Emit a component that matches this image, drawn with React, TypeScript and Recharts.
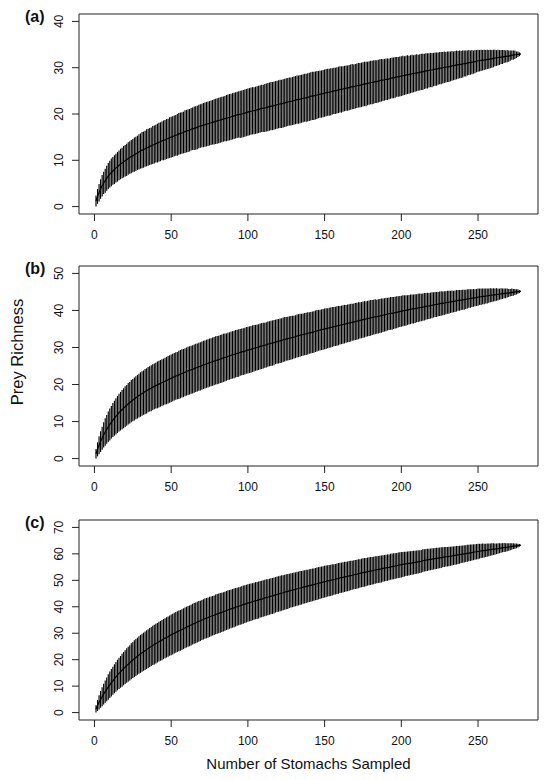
import { ComposedChart, Line, ErrorBar, XAxis, YAxis, ReferenceArea } from "recharts";

const FONT = "'Liberation Sans', Arial, sans-serif";

// x axis: number of stomachs sampled (1..278), R-style 4% padding
const X_DOMAIN: [number, number] = [-10.08, 289.08];
const X_TICKS = [0, 50, 100, 150, 200, 250];

// (a) mean prey richness and CI half-width (2 sd) per sample size
const A_MEAN = [
  1.2, 2.2, 3.0, 3.8, 4.5, 5.1, 5.6, 6.1, 6.6, 7.0,
  7.4, 7.7, 8.0, 8.3, 8.6, 8.9, 9.2, 9.4, 9.7, 9.9,
  10.1, 10.4, 10.6, 10.8, 11.0, 11.2, 11.4, 11.6, 11.8, 12.0,
  12.2, 12.3, 12.5, 12.7, 12.8, 13.0, 13.1, 13.3, 13.4, 13.6,
  13.7, 13.9, 14.0, 14.2, 14.3, 14.4, 14.6, 14.7, 14.9, 15.0,
  15.1, 15.3, 15.4, 15.5, 15.7, 15.8, 15.9, 16.0, 16.2, 16.3,
  16.4, 16.5, 16.7, 16.8, 16.9, 17.0, 17.1, 17.3, 17.4, 17.5,
  17.6, 17.7, 17.8, 17.9, 18.0, 18.1, 18.2, 18.3, 18.4, 18.5,
  18.6, 18.7, 18.8, 18.9, 19.0, 19.1, 19.2, 19.3, 19.4, 19.5,
  19.6, 19.7, 19.8, 19.9, 19.9, 20.0, 20.1, 20.2, 20.3, 20.4,
  20.5, 20.6, 20.7, 20.7, 20.8, 20.9, 21.0, 21.1, 21.2, 21.2,
  21.3, 21.4, 21.5, 21.6, 21.7, 21.7, 21.8, 21.9, 22.0, 22.1,
  22.2, 22.2, 22.3, 22.4, 22.5, 22.6, 22.7, 22.7, 22.8, 22.9,
  23.0, 23.1, 23.1, 23.2, 23.3, 23.4, 23.5, 23.5, 23.6, 23.7,
  23.8, 23.9, 23.9, 24.0, 24.1, 24.2, 24.3, 24.3, 24.4, 24.5,
  24.6, 24.7, 24.7, 24.8, 24.9, 25.0, 25.0, 25.1, 25.2, 25.3,
  25.3, 25.4, 25.5, 25.6, 25.6, 25.7, 25.8, 25.9, 25.9, 26.0,
  26.1, 26.2, 26.2, 26.3, 26.4, 26.5, 26.5, 26.6, 26.7, 26.8,
  26.8, 26.9, 27.0, 27.0, 27.1, 27.2, 27.3, 27.3, 27.4, 27.5,
  27.5, 27.6, 27.7, 27.8, 27.8, 27.9, 28.0, 28.0, 28.1, 28.2,
  28.3, 28.3, 28.4, 28.5, 28.5, 28.6, 28.7, 28.7, 28.8, 28.9,
  28.9, 29.0, 29.1, 29.1, 29.2, 29.3, 29.3, 29.4, 29.5, 29.5,
  29.6, 29.7, 29.7, 29.8, 29.9, 29.9, 30.0, 30.1, 30.1, 30.2,
  30.2, 30.3, 30.4, 30.4, 30.5, 30.6, 30.6, 30.7, 30.7, 30.8,
  30.9, 30.9, 31.0, 31.1, 31.1, 31.2, 31.2, 31.3, 31.4, 31.5,
  31.5, 31.6, 31.6, 31.7, 31.7, 31.8, 31.8, 31.9, 31.9, 32.0,
  32.1, 32.1, 32.2, 32.2, 32.3, 32.3, 32.4, 32.4, 32.5, 32.5,
  32.6, 32.7, 32.7, 32.8, 32.8, 32.9, 32.9, 33.0,
];
const A_CI = [
  1.2, 1.6, 1.9, 2.1, 2.3, 2.4, 2.6, 2.7, 2.8, 2.9,
  3.0, 3.0, 3.1, 3.1, 3.2, 3.2, 3.3, 3.3, 3.4, 3.4,
  3.5, 3.5, 3.5, 3.6, 3.6, 3.7, 3.7, 3.7, 3.8, 3.8,
  3.9, 3.9, 3.9, 4.0, 4.0, 4.0, 4.0, 4.1, 4.1, 4.1,
  4.2, 4.2, 4.2, 4.2, 4.3, 4.3, 4.3, 4.3, 4.4, 4.4,
  4.4, 4.4, 4.4, 4.5, 4.5, 4.5, 4.5, 4.5, 4.6, 4.6,
  4.6, 4.6, 4.6, 4.6, 4.7, 4.7, 4.7, 4.7, 4.7, 4.7,
  4.8, 4.8, 4.8, 4.8, 4.8, 4.8, 4.8, 4.9, 4.9, 4.9,
  4.9, 4.9, 4.9, 4.9, 4.9, 5.0, 5.0, 5.0, 5.0, 5.0,
  5.0, 5.0, 5.0, 5.0, 5.1, 5.1, 5.1, 5.1, 5.1, 5.1,
  5.1, 5.1, 5.1, 5.1, 5.1, 5.1, 5.1, 5.1, 5.1, 5.1,
  5.2, 5.2, 5.2, 5.2, 5.2, 5.2, 5.2, 5.2, 5.2, 5.2,
  5.2, 5.2, 5.2, 5.2, 5.2, 5.2, 5.2, 5.2, 5.2, 5.2,
  5.2, 5.2, 5.2, 5.2, 5.2, 5.2, 5.2, 5.2, 5.2, 5.2,
  5.2, 5.2, 5.2, 5.2, 5.2, 5.1, 5.1, 5.1, 5.1, 5.1,
  5.1, 5.1, 5.1, 5.1, 5.0, 5.0, 5.0, 5.0, 5.0, 5.0,
  5.0, 4.9, 4.9, 4.9, 4.9, 4.9, 4.9, 4.9, 4.8, 4.8,
  4.8, 4.8, 4.8, 4.8, 4.8, 4.8, 4.8, 4.7, 4.7, 4.7,
  4.7, 4.7, 4.6, 4.6, 4.6, 4.6, 4.6, 4.5, 4.5, 4.5,
  4.5, 4.4, 4.4, 4.4, 4.4, 4.4, 4.3, 4.3, 4.3, 4.3,
  4.3, 4.2, 4.2, 4.2, 4.1, 4.1, 4.1, 4.0, 4.0, 4.0,
  3.9, 3.9, 3.9, 3.9, 3.8, 3.8, 3.8, 3.7, 3.7, 3.7,
  3.6, 3.6, 3.6, 3.5, 3.5, 3.5, 3.4, 3.4, 3.3, 3.3,
  3.3, 3.2, 3.2, 3.1, 3.1, 3.1, 3.0, 3.0, 2.9, 2.9,
  2.8, 2.8, 2.7, 2.7, 2.6, 2.6, 2.5, 2.5, 2.4, 2.4,
  2.3, 2.3, 2.2, 2.2, 2.1, 2.1, 2.0, 2.0, 1.9, 1.9,
  1.8, 1.7, 1.7, 1.6, 1.5, 1.5, 1.4, 1.3, 1.3, 1.2,
  1.1, 1.0, 1.0, 0.9, 0.7, 0.6, 0.4, 0,
];

// (b)
const B_MEAN = [
  1.3, 2.5, 3.6, 4.6, 5.5, 6.4, 7.2, 7.9, 8.6, 9.2,
  9.8, 10.4, 10.9, 11.4, 11.9, 12.4, 12.8, 13.2, 13.6, 14.0,
  14.4, 14.8, 15.1, 15.5, 15.8, 16.1, 16.4, 16.7, 17.0, 17.3,
  17.6, 17.8, 18.1, 18.3, 18.6, 18.8, 19.0, 19.3, 19.5, 19.7,
  19.9, 20.1, 20.3, 20.5, 20.7, 20.9, 21.1, 21.3, 21.5, 21.7,
  21.9, 22.1, 22.3, 22.4, 22.6, 22.8, 23.0, 23.1, 23.3, 23.5,
  23.7, 23.8, 24.0, 24.1, 24.3, 24.5, 24.6, 24.8, 24.9, 25.1,
  25.3, 25.4, 25.6, 25.7, 25.9, 26.0, 26.2, 26.3, 26.5, 26.6,
  26.7, 26.9, 27.0, 27.2, 27.3, 27.4, 27.6, 27.7, 27.9, 28.0,
  28.1, 28.3, 28.4, 28.5, 28.7, 28.8, 28.9, 29.0, 29.2, 29.3,
  29.4, 29.5, 29.7, 29.8, 29.9, 30.0, 30.1, 30.3, 30.4, 30.5,
  30.6, 30.7, 30.9, 31.0, 31.1, 31.2, 31.3, 31.5, 31.6, 31.7,
  31.8, 31.9, 32.1, 32.2, 32.3, 32.4, 32.5, 32.6, 32.7, 32.8,
  32.9, 33.1, 33.2, 33.3, 33.4, 33.5, 33.6, 33.7, 33.8, 33.9,
  34.0, 34.1, 34.2, 34.4, 34.5, 34.6, 34.7, 34.8, 34.9, 35.0,
  35.1, 35.2, 35.3, 35.4, 35.5, 35.6, 35.7, 35.8, 35.9, 36.0,
  36.1, 36.2, 36.3, 36.4, 36.5, 36.6, 36.7, 36.8, 36.9, 37.0,
  37.1, 37.2, 37.3, 37.4, 37.5, 37.6, 37.7, 37.8, 37.9, 38.0,
  38.1, 38.2, 38.3, 38.3, 38.4, 38.5, 38.6, 38.7, 38.8, 38.9,
  39.0, 39.1, 39.2, 39.2, 39.3, 39.4, 39.5, 39.6, 39.7, 39.8,
  39.9, 40.0, 40.0, 40.1, 40.2, 40.3, 40.4, 40.4, 40.5, 40.6,
  40.7, 40.8, 40.8, 40.9, 41.0, 41.1, 41.2, 41.2, 41.3, 41.4,
  41.5, 41.6, 41.6, 41.7, 41.8, 41.9, 41.9, 42.0, 42.1, 42.2,
  42.2, 42.3, 42.4, 42.4, 42.5, 42.6, 42.7, 42.7, 42.8, 42.9,
  42.9, 43.0, 43.1, 43.2, 43.2, 43.3, 43.4, 43.4, 43.5, 43.6,
  43.7, 43.7, 43.8, 43.8, 43.9, 43.9, 44.0, 44.1, 44.1, 44.2,
  44.2, 44.3, 44.3, 44.4, 44.5, 44.5, 44.6, 44.6, 44.7, 44.7,
  44.8, 44.9, 44.9, 45.0, 45.0, 45.1, 45.1, 45.2,
];
const B_CI = [
  1.3, 1.9, 2.4, 2.8, 3.1, 3.4, 3.7, 3.9, 4.1, 4.3,
  4.4, 4.6, 4.7, 4.9, 5.0, 5.1, 5.2, 5.3, 5.4, 5.5,
  5.5, 5.6, 5.6, 5.7, 5.7, 5.8, 5.8, 5.9, 5.9, 6.0,
  6.0, 6.0, 6.1, 6.1, 6.1, 6.1, 6.2, 6.2, 6.2, 6.2,
  6.3, 6.3, 6.3, 6.3, 6.3, 6.3, 6.4, 6.4, 6.4, 6.4,
  6.4, 6.4, 6.4, 6.4, 6.5, 6.5, 6.5, 6.5, 6.5, 6.5,
  6.5, 6.5, 6.5, 6.5, 6.5, 6.5, 6.5, 6.5, 6.5, 6.5,
  6.5, 6.5, 6.5, 6.5, 6.5, 6.5, 6.5, 6.5, 6.5, 6.5,
  6.5, 6.5, 6.5, 6.5, 6.5, 6.4, 6.4, 6.4, 6.4, 6.4,
  6.4, 6.4, 6.4, 6.4, 6.3, 6.3, 6.3, 6.3, 6.3, 6.3,
  6.3, 6.3, 6.3, 6.3, 6.2, 6.2, 6.2, 6.2, 6.2, 6.2,
  6.1, 6.1, 6.1, 6.1, 6.1, 6.1, 6.1, 6.0, 6.0, 6.0,
  6.0, 6.0, 6.0, 6.0, 5.9, 5.9, 5.9, 5.9, 5.9, 5.8,
  5.8, 5.8, 5.8, 5.8, 5.7, 5.7, 5.7, 5.7, 5.7, 5.6,
  5.6, 5.6, 5.6, 5.6, 5.6, 5.5, 5.5, 5.5, 5.5, 5.5,
  5.5, 5.4, 5.4, 5.4, 5.4, 5.3, 5.3, 5.3, 5.3, 5.2,
  5.2, 5.2, 5.2, 5.1, 5.1, 5.1, 5.1, 5.0, 5.0, 5.0,
  5.0, 5.0, 4.9, 4.9, 4.9, 4.9, 4.8, 4.8, 4.8, 4.8,
  4.7, 4.7, 4.7, 4.6, 4.6, 4.6, 4.6, 4.5, 4.5, 4.5,
  4.4, 4.4, 4.4, 4.4, 4.3, 4.3, 4.3, 4.2, 4.2, 4.2,
  4.2, 4.1, 4.1, 4.0, 4.0, 4.0, 3.9, 3.9, 3.9, 3.8,
  3.8, 3.8, 3.7, 3.7, 3.7, 3.6, 3.6, 3.5, 3.5, 3.5,
  3.4, 3.4, 3.4, 3.3, 3.3, 3.3, 3.2, 3.2, 3.1, 3.1,
  3.1, 3.0, 3.0, 2.9, 2.9, 2.9, 2.8, 2.8, 2.7, 2.7,
  2.7, 2.6, 2.6, 2.5, 2.5, 2.4, 2.4, 2.3, 2.3, 2.3,
  2.2, 2.2, 2.1, 2.1, 2.0, 2.0, 1.9, 1.9, 1.8, 1.8,
  1.7, 1.7, 1.6, 1.5, 1.5, 1.4, 1.3, 1.3, 1.2, 1.1,
  1.0, 1.0, 0.9, 0.8, 0.7, 0.6, 0.4, 0,
];

// (c)
const C_MEAN = [
  1.4, 2.7, 3.9, 5.0, 6.0, 7.0, 7.9, 8.8, 9.7, 10.5,
  11.3, 12.0, 12.8, 13.5, 14.2, 14.8, 15.4, 16.0, 16.6, 17.2,
  17.8, 18.3, 18.8, 19.4, 19.9, 20.4, 20.8, 21.3, 21.8, 22.2,
  22.6, 23.0, 23.4, 23.8, 24.2, 24.6, 25.0, 25.4, 25.7, 26.1,
  26.4, 26.8, 27.1, 27.4, 27.8, 28.1, 28.4, 28.7, 29.1, 29.4,
  29.7, 30.0, 30.3, 30.6, 30.9, 31.1, 31.4, 31.7, 32.0, 32.3,
  32.6, 32.8, 33.1, 33.4, 33.7, 33.9, 34.2, 34.5, 34.7, 35.0,
  35.2, 35.5, 35.7, 35.9, 36.2, 36.4, 36.6, 36.8, 37.1, 37.3,
  37.5, 37.7, 37.9, 38.1, 38.3, 38.6, 38.8, 39.0, 39.2, 39.4,
  39.6, 39.8, 40.0, 40.2, 40.4, 40.6, 40.8, 41.0, 41.2, 41.4,
  41.6, 41.7, 41.9, 42.1, 42.3, 42.4, 42.6, 42.8, 42.9, 43.1,
  43.3, 43.5, 43.6, 43.8, 44.0, 44.1, 44.3, 44.5, 44.7, 44.8,
  45.0, 45.2, 45.3, 45.5, 45.7, 45.8, 46.0, 46.2, 46.3, 46.5,
  46.6, 46.8, 46.9, 47.1, 47.2, 47.4, 47.5, 47.7, 47.8, 48.0,
  48.1, 48.3, 48.4, 48.6, 48.7, 48.9, 49.0, 49.2, 49.3, 49.5,
  49.6, 49.8, 49.9, 50.0, 50.2, 50.3, 50.4, 50.6, 50.7, 50.9,
  51.0, 51.1, 51.3, 51.4, 51.5, 51.7, 51.8, 51.9, 52.1, 52.2,
  52.3, 52.5, 52.6, 52.8, 52.9, 53.0, 53.1, 53.3, 53.4, 53.5,
  53.6, 53.7, 53.9, 54.0, 54.1, 54.2, 54.3, 54.5, 54.6, 54.7,
  54.8, 54.9, 55.1, 55.2, 55.3, 55.4, 55.5, 55.7, 55.8, 55.9,
  56.0, 56.1, 56.2, 56.3, 56.4, 56.5, 56.6, 56.7, 56.8, 56.9,
  57.0, 57.1, 57.2, 57.4, 57.5, 57.6, 57.7, 57.8, 57.9, 58.0,
  58.1, 58.2, 58.3, 58.4, 58.5, 58.6, 58.7, 58.8, 58.9, 58.9,
  59.0, 59.1, 59.2, 59.3, 59.4, 59.5, 59.6, 59.7, 59.8, 59.9,
  60.0, 60.1, 60.2, 60.3, 60.4, 60.5, 60.6, 60.7, 60.8, 60.9,
  61.0, 61.1, 61.2, 61.2, 61.3, 61.4, 61.5, 61.6, 61.7, 61.8,
  61.8, 61.9, 62.0, 62.1, 62.2, 62.3, 62.4, 62.4, 62.5, 62.6,
  62.7, 62.8, 62.9, 62.9, 63.0, 63.1, 63.2, 63.3,
];
const C_CI = [
  1.4, 2.1, 2.7, 3.2, 3.6, 3.9, 4.2, 4.5, 4.8, 5.0,
  5.2, 5.3, 5.5, 5.6, 5.8, 5.9, 6.0, 6.2, 6.3, 6.4,
  6.5, 6.6, 6.7, 6.8, 6.8, 6.9, 7.0, 7.0, 7.1, 7.2,
  7.2, 7.2, 7.3, 7.3, 7.3, 7.4, 7.4, 7.4, 7.5, 7.5,
  7.5, 7.5, 7.5, 7.6, 7.6, 7.6, 7.6, 7.6, 7.6, 7.7,
  7.7, 7.7, 7.7, 7.7, 7.7, 7.7, 7.7, 7.7, 7.7, 7.7,
  7.7, 7.7, 7.7, 7.7, 7.7, 7.7, 7.7, 7.7, 7.6, 7.6,
  7.6, 7.6, 7.6, 7.6, 7.6, 7.5, 7.5, 7.5, 7.5, 7.5,
  7.5, 7.5, 7.4, 7.4, 7.4, 7.4, 7.4, 7.3, 7.3, 7.3,
  7.3, 7.3, 7.2, 7.2, 7.2, 7.2, 7.2, 7.1, 7.1, 7.1,
  7.1, 7.1, 7.0, 7.0, 7.0, 7.0, 7.0, 6.9, 6.9, 6.9,
  6.9, 6.9, 6.8, 6.8, 6.8, 6.8, 6.8, 6.7, 6.7, 6.7,
  6.7, 6.7, 6.6, 6.6, 6.6, 6.6, 6.5, 6.5, 6.5, 6.5,
  6.4, 6.4, 6.4, 6.4, 6.3, 6.3, 6.3, 6.3, 6.2, 6.2,
  6.2, 6.2, 6.1, 6.1, 6.1, 6.1, 6.1, 6.0, 6.0, 6.0,
  6.0, 5.9, 5.9, 5.9, 5.9, 5.8, 5.8, 5.8, 5.8, 5.7,
  5.7, 5.7, 5.7, 5.6, 5.6, 5.6, 5.6, 5.5, 5.5, 5.5,
  5.5, 5.5, 5.4, 5.4, 5.4, 5.4, 5.3, 5.3, 5.3, 5.3,
  5.2, 5.2, 5.2, 5.1, 5.1, 5.1, 5.1, 5.0, 5.0, 5.0,
  5.0, 4.9, 4.9, 4.9, 4.9, 4.8, 4.8, 4.8, 4.8, 4.8,
  4.7, 4.7, 4.6, 4.6, 4.6, 4.5, 4.5, 4.5, 4.4, 4.4,
  4.4, 4.3, 4.3, 4.3, 4.2, 4.2, 4.2, 4.1, 4.1, 4.1,
  4.0, 4.0, 4.0, 3.9, 3.9, 3.9, 3.8, 3.8, 3.7, 3.7,
  3.7, 3.6, 3.6, 3.5, 3.5, 3.5, 3.4, 3.4, 3.3, 3.3,
  3.3, 3.2, 3.2, 3.1, 3.1, 3.0, 3.0, 2.9, 2.9, 2.9,
  2.8, 2.7, 2.7, 2.6, 2.5, 2.5, 2.4, 2.3, 2.3, 2.2,
  2.1, 2.0, 2.0, 1.9, 1.8, 1.7, 1.7, 1.6, 1.5, 1.4,
  1.3, 1.2, 1.1, 1.0, 0.9, 0.7, 0.5, 0,
];

const PANELS = [
  { label: "(a)", mean: A_MEAN, ci: A_CI, yDomain: [-1.6, 41.6], yTicks: [0, 10, 20, 30, 40], top: 0 },
  { label: "(b)", mean: B_MEAN, ci: B_CI, yDomain: [-2, 52], yTicks: [0, 10, 20, 30, 40, 50], top: 252 },
  { label: "(c)", mean: C_MEAN, ci: C_CI, yDomain: [-2.8, 72.8], yTicks: [0, 10, 20, 30, 40, 50, 60, 70], top: 506 },
];

function toRows(mean: number[], ci: number[]) {
  return mean.map((m, i) => ({ n: i + 1, mean: m, ci: ci[i] }));
}

// R draws y tick labels parallel to the axis
function YTick(props: any) {
  const { x, y, payload } = props;
  return (
    <text x={x} y={y} transform={`rotate(-90 ${x} ${y})`} textAnchor="middle" fontSize={12} fontFamily={FONT} fill="#111">
      {payload.value}
    </text>
  );
}

function Panel({ p }: { p: (typeof PANELS)[number] }) {
  const data = toRows(p.mean, p.ci);
  return (
    <div style={{ position: "absolute", left: 0, top: p.top }}>
      <ComposedChart width={550} height={250} data={data} margin={{ top: 14, right: 12, bottom: 6, left: 39 }}>
        <XAxis
          dataKey="n"
          type="number"
          domain={X_DOMAIN}
          ticks={X_TICKS}
          interval={0}
          allowDataOverflow
          axisLine={false}
          tickSize={7}
          tickMargin={9}
          height={30}
          stroke="#222"
          tick={{ fontSize: 12, fontFamily: FONT, fill: "#111" }}
        />
        <YAxis
          type="number"
          domain={p.yDomain}
          ticks={p.yTicks}
          interval={0}
          allowDataOverflow
          axisLine={false}
          tickSize={7}
          tickMargin={9}
          width={40}
          stroke="#222"
          tick={(t: any) => <YTick {...t} />}
        />
        <ReferenceArea
          x1={X_DOMAIN[0]}
          x2={X_DOMAIN[1]}
          y1={p.yDomain[0]}
          y2={p.yDomain[1]}
          fill="none"
          stroke="#222"
          strokeWidth={1}
          ifOverflow="visible"
        />
        <Line dataKey="mean" stroke="none" dot={false} isAnimationActive={false}>
          <ErrorBar dataKey="ci" width={0} stroke="#000" strokeWidth={1.15} isAnimationActive={false} />
        </Line>
        <Line dataKey="mean" type="linear" stroke="#000" strokeWidth={1.2} dot={false} isAnimationActive={false} />
      </ComposedChart>
    </div>
  );
}

export default function App() {
  return (
    <div style={{ position: "absolute", left: 0, top: 0, width: 550, height: 780, background: "#fff" }}>
      {PANELS.map((p) => (
        <Panel key={p.label} p={p} />
      ))}
      <svg width={550} height={780} style={{ position: "absolute", left: 0, top: 0, pointerEvents: "none" }}>
        {PANELS.map((p) => (
          <text key={p.label} x={25} y={p.top + 22} fontSize={16} fontWeight="bold" fontFamily={FONT} fill="#111">
            {p.label}
          </text>
        ))}
        <text x={23} y={352} transform="rotate(-90 23 352)" textAnchor="middle" fontSize={16.5} fontFamily={FONT} fill="#111">
          Prey Richness
        </text>
        <text x={308.5} y={769} textAnchor="middle" fontSize={15} fontFamily={FONT} fill="#111">
          Number of Stomachs Sampled
        </text>
      </svg>
    </div>
  );
}
